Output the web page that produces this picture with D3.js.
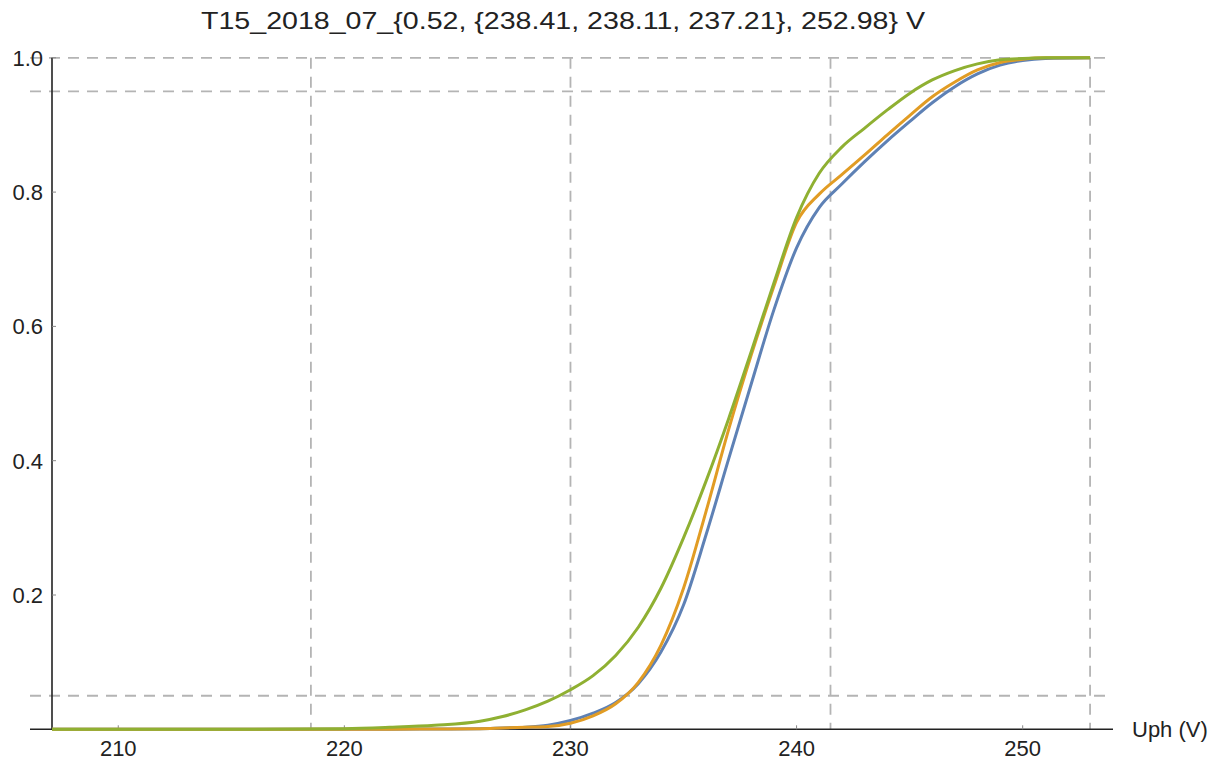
<!DOCTYPE html>
<html>
<head>
<meta charset="utf-8">
<script src="https://cdn.jsdelivr.net/npm/d3@7"></script>
<style>
  html, body { margin: 0; padding: 0; background: #fff; }
  svg { display: block; font-family: "Liberation Sans", Arial, sans-serif; }
</style>
</head>
<body>
<svg id="chart" width="1218" height="762"></svg>
<script>
// CDF of phase voltages, T15 2018-07
const titleText = "T15_2018_07_{0.52, {238.41, 238.11, 237.21}, 252.98} V";
const xLabel = "Uph (V)";

const voltage = [207.07, 215, 220, 222, 224, 226, 227, 228, 229, 230, 231, 232, 233, 234, 235, 236, 237, 238, 239, 240, 241, 242, 243, 244, 245, 246, 247, 248, 249, 250, 251, 252.98];
const phase1 = [0, 0, 0, 0, 0.0005, 0.001, 0.002, 0.003, 0.006, 0.013, 0.024, 0.04, 0.068, 0.115, 0.185, 0.29, 0.403, 0.515, 0.625, 0.717, 0.777, 0.812, 0.845, 0.876, 0.905, 0.933, 0.957, 0.976, 0.989, 0.996, 0.999, 1];
const phase2 = [0, 0, 0, 0, 0.0005, 0.001, 0.002, 0.003, 0.004, 0.009, 0.02, 0.038, 0.07, 0.125, 0.21, 0.325, 0.447, 0.558, 0.66, 0.755, 0.797, 0.826, 0.855, 0.885, 0.914, 0.942, 0.964, 0.982, 0.993, 0.998, 1, 1];
const phase3 = [0, 0, 0.001, 0.003, 0.006, 0.012, 0.019, 0.029, 0.042, 0.059, 0.08, 0.11, 0.152, 0.21, 0.285, 0.37, 0.463, 0.563, 0.665, 0.762, 0.828, 0.867, 0.895, 0.922, 0.947, 0.967, 0.981, 0.991, 0.997, 0.999, 1, 1];

const seriesNames = ["L1", "L2", "L3"];
const seriesColors = ["#5e81b5", "#e19c24", "#8fb032"];

const xTicks = [210, 220, 230, 240, 250];
const yTicks = [0.2, 0.4, 0.6, 0.8, 1.0];
const vGuides = [218.52, 230, 241.5, 252.98];
const hGuides = [0.05, 0.95, 1.0];

const svg = d3.select("#chart");

const x = d3.scaleLinear().domain([207.07, 253.95]).range([52, 1112]);
const y = d3.scaleLinear().domain([0, 1]).range([729.3, 57.8]);
const plotLeft = 30, plotRight = 1113;

// dashed guides
const guides = svg.append("g")
  .attr("stroke", "#b4b4b4")
  .attr("stroke-width", 1.8)
  .attr("stroke-dasharray", "11,8");

guides.selectAll("line.v")
  .data(vGuides)
  .join("line")
  .attr("class", "v")
  .attr("x1", d => x(d)).attr("x2", d => x(d))
  .attr("y1", y(1)).attr("y2", y(0));

guides.selectAll("line.h")
  .data(hGuides)
  .join("line")
  .attr("class", "h")
  .attr("x1", plotLeft).attr("x2", plotRight)
  .attr("y1", d => y(d)).attr("y2", d => y(d));

// axes
const axisColor = "#222";
const xAxis = svg.append("g").attr("transform", "translate(0," + y(0) + ")");
xAxis.append("line")
  .attr("x1", plotLeft).attr("x2", plotRight)
  .attr("stroke", axisColor).attr("stroke-width", 1.6);
xAxis.selectAll("line.tick")
  .data(xTicks)
  .join("line")
  .attr("class", "tick")
  .attr("x1", d => x(d)).attr("x2", d => x(d))
  .attr("y1", 0).attr("y2", -4)
  .attr("stroke", "#888").attr("stroke-width", 1);
xAxis.selectAll("text")
  .data(xTicks)
  .join("text")
  .attr("x", d => x(d))
  .attr("y", 27)
  .attr("text-anchor", "middle")
  .attr("font-size", 22)
  .attr("fill", "#222")
  .text(d3.format("d"));

const yAxis = svg.append("g").attr("transform", "translate(" + x(207.07) + ",0)");
yAxis.append("line")
  .attr("y1", y(0)).attr("y2", y(1))
  .attr("stroke", axisColor).attr("stroke-width", 1.6);
yAxis.selectAll("line.tick")
  .data(yTicks)
  .join("line")
  .attr("class", "tick")
  .attr("y1", d => y(d)).attr("y2", d => y(d))
  .attr("x1", 0).attr("x2", 4)
  .attr("stroke", "#888").attr("stroke-width", 1);
yAxis.selectAll("text")
  .data(yTicks)
  .join("text")
  .attr("x", -9)
  .attr("y", d => y(d))
  .attr("dy", "0.36em")
  .attr("text-anchor", "end")
  .attr("font-size", 22)
  .attr("fill", "#222")
  .text(d3.format(".1f"));

svg.append("text")
  .attr("x", plotRight + 19)
  .attr("y", y(0) + 8)
  .attr("font-size", 22)
  .attr("fill", "#222")
  .text(xLabel);

// curves
const line = d3.line()
  .x(d => x(d[0]))
  .y(d => y(d[1]))
  .curve(d3.curveMonotoneX);

[phase1, phase2, phase3].forEach((vals, i) => {
  svg.append("path")
    .datum(voltage.map((v, j) => [v, vals[j]]))
    .attr("class", "cdf " + seriesNames[i])
    .attr("fill", "none")
    .attr("stroke", seriesColors[i])
    .attr("stroke-width", 3)
    .attr("stroke-linejoin", "round")
    .attr("d", line);
});

// title
svg.append("text")
  .attr("x", 563)
  .attr("y", 29)
  .attr("text-anchor", "middle")
  .attr("font-size", 24)
  .attr("fill", "#222")
  .attr("textLength", 724)
  .attr("lengthAdjust", "spacingAndGlyphs")
  .text(titleText);
</script>
</body>
</html>
